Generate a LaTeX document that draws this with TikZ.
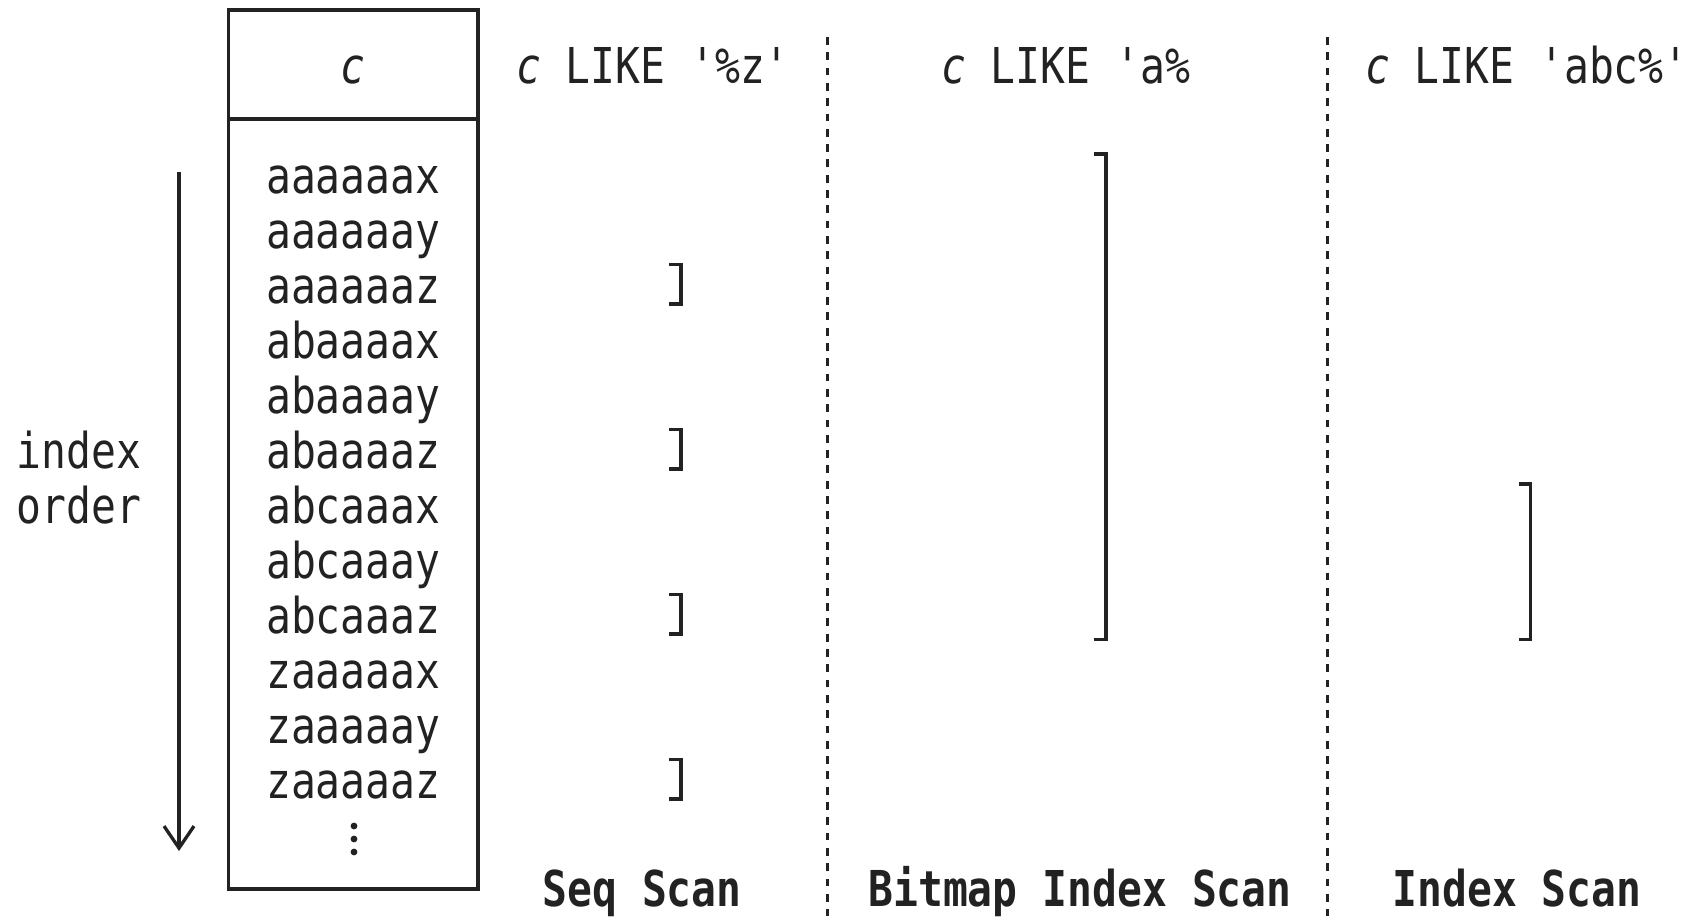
\documentclass[tikz,border=0pt]{standalone}
\usepackage{fontspec}
\setmonofont[FakeStretch=0.837]{DejaVu Sans Mono}
\usetikzlibrary{arrows.meta}
\definecolor{ink}{HTML}{222222}
\newcommand\monof{\ttfamily\fontsize{24.7pt}{29.6pt}\selectfont}
\newcommand\rangebr[3]{\draw[rng] (#1-12,#2) -- (#1,#2) -- (#1,#3) -- (#1-12,#3);}
\begin{document}
\begin{tikzpicture}[x=0.5pt,y=-0.5pt,
  every node/.style={inner sep=0pt,outer sep=0pt,text=ink,font=\monof},
  txt/.style={anchor=base},
  head/.style={anchor=base west},
  lbl/.style={anchor=base,font=\monof\bfseries},
  frame/.style={draw=ink,line width=1.8pt},
  rng/.style={draw=ink,line width=1.75pt,line join=miter,line cap=butt},
  sep/.style={draw=ink,line width=1.9pt,dash pattern=on 3.9pt off 3.75pt},
  dotmark/.style={fill=ink},
  orderarrow/.style={draw=ink,line width=1.65pt,-{Straight Barb[length=11pt,width=15pt,line width=1.65pt]}}]
\fill[white] (0,0) rectangle (1690,916);
\useasboundingbox (0,0) rectangle (1690,916);
% table
\draw[frame] (228.5,10) rectangle (478,889);
\draw[frame] (228.5,119) -- (478,119);
\node[txt] (hdr) at (353.3,83) {\itshape c};
\foreach \t [count=\k from 0] in {aaaaaax,aaaaaay,aaaaaaz,abaaaax,abaaaay,abaaaaz,abcaaax,abcaaay,abcaaaz,zaaaaax,zaaaaay,zaaaaaz}
  \node[txt] (r\k) at (353.3,193.3+55*\k) {\t};
% vertical ellipsis
\foreach \yy in {826,839,852}
  \fill[dotmark] (354,\yy) circle[radius=3.4];
% index order arrow
\node[txt] (lbindex) at (79,468) {index};
\node[txt] (lborder) at (79,523) {order};
\coordinate (ordtop) at (179,172);
\coordinate (ordend) at (179,851);
\draw[orderarrow] (ordtop) -- (ordend);
% separators
\coordinate (s1a) at (827.5,37);
\coordinate (s1b) at (827.5,916);
\coordinate (s2a) at (1327.5,37);
\coordinate (s2b) at (1327.5,916);
\draw[sep] (s1a) -- (s1b);
\draw[sep] (s2a) -- (s2b);
% column headers
\node[head] (q1) at (516,83) {\textit{c} LIKE '\%z'};
\node[head] (q2) at (941,83) {\textit{c} LIKE 'a\%};
\node[head] (q3) at (1365,83) {\textit{c} LIKE 'abc\%'};
% bottom labels
\node[lbl] (m1) at (642,906) {Seq Scan};
\node[lbl] (m2) at (1080,906) {Bitmap Index Scan};
\node[lbl] (m3) at (1517,906) {Index Scan};
% ranges
\rangebr{681}{264.7}{304}
\rangebr{681}{429.7}{469}
\rangebr{681}{594.7}{634}
\rangebr{681}{759.7}{799}
\rangebr{1106}{154}{639.5}
\rangebr{1530.5}{484}{639.5}
\end{tikzpicture}
\end{document}
